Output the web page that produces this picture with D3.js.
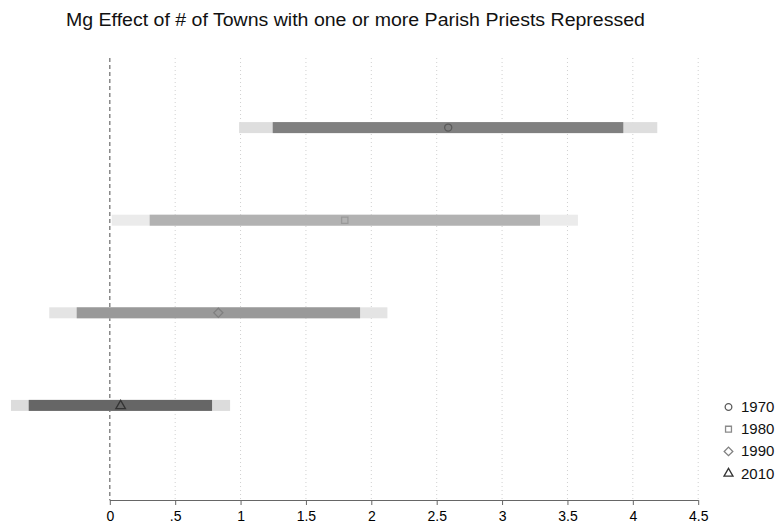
<!DOCTYPE html>
<html>
<head>
<meta charset="utf-8">
<script src="https://cdn.jsdelivr.net/npm/d3@7"></script>
<style>
  body { margin: 0; background: #fff; }
  svg { font-family: "Liberation Sans", Arial, Helvetica, sans-serif; }
</style>
</head>
<body>
<svg id="chart" width="781" height="528"></svg>
<script>
const years = ["1970", "1980", "1990", "2010"];
const pointEst = [2.588, 1.797, 0.830, 0.083];
const ci95Low = [0.989, 0.015, -0.463, -0.756];
const ci95High = [4.187, 3.580, 2.123, 0.920];
const ci90Low = [1.246, 0.305, -0.253, -0.620];
const ci90High = [3.927, 3.290, 1.914, 0.782];
const xTicks = [0, 0.5, 1, 1.5, 2, 2.5, 3, 3.5, 4, 4.5];
const darkColors = ["#808080", "#b2b2b2", "#999999", "#666666"];
const lightColors = ["#dedede", "#ebebeb", "#e4e4e4", "#dcdcdc"];
const markerColors = ["#5a5a5a", "#999999", "#808080", "#333333"];
const symbols = [d3.symbolCircle, d3.symbolSquare, d3.symbolSquare, d3.symbolTriangle];
const rotations = [0, 0, 45, 0];
const title = "Mg Effect of # of Towns with one or more Parish Priests Repressed";

const svg = d3.select("#chart");
const x = d3.scaleLinear().domain([0, 4.5]).range([109.8, 698.2]);
const y = d3.scalePoint().domain(years).range([35, 498]).padding(1);
const plotTop = 58, plotBottom = 500;

// grid
svg.append("g").selectAll("line").data(xTicks.filter(t => t !== 0)).join("line")
  .attr("x1", d => x(d)).attr("x2", d => x(d))
  .attr("y1", plotTop).attr("y2", plotBottom)
  .attr("stroke", "#d0d0d0").attr("stroke-width", 1).attr("stroke-dasharray", "1,3");

// zero line
svg.append("line")
  .attr("x1", x(0)).attr("x2", x(0)).attr("y1", plotTop).attr("y2", plotBottom)
  .attr("stroke", "#777").attr("stroke-width", 1.3).attr("stroke-dasharray", "4,3");

const data = years.map((yr, i) => ({yr, i, p: pointEst[i], l95: ci95Low[i], h95: ci95High[i], l90: ci90Low[i], h90: ci90High[i]}));
const barH = 11;

svg.append("g").selectAll("rect").data(data).join("rect")
  .attr("x", d => x(d.l95)).attr("width", d => x(d.h95) - x(d.l95))
  .attr("y", d => y(d.yr) - barH / 2).attr("height", barH)
  .attr("fill", d => lightColors[d.i]);

svg.append("g").selectAll("rect").data(data).join("rect")
  .attr("x", d => x(d.l90)).attr("width", d => x(d.h90) - x(d.l90))
  .attr("y", d => y(d.yr) - barH / 2).attr("height", barH)
  .attr("fill", d => darkColors[d.i]);

const symSizes = [40, 40, 42, 40];
svg.append("g").selectAll("path").data(data).join("path")
  .attr("transform", d => `translate(${x(d.p)},${y(d.yr) + (d.i === 3 ? 0.5 : 0)}) rotate(${rotations[d.i]})`)
  .attr("d", d => d3.symbol().type(symbols[d.i]).size(symSizes[d.i])())
  .attr("fill", "none").attr("stroke", d => markerColors[d.i]).attr("stroke-width", 1.3);

// axis
const axis = d3.axisBottom(x).tickValues(xTicks).tickSize(5).tickPadding(6)
  .tickFormat(d => d3.format("")(d).replace(/^0\./, "."));
const ag = svg.append("g").attr("transform", `translate(0,${plotBottom})`).call(axis);
ag.select(".domain").attr("stroke", "#666").attr("d", `M${x(0)},0.5H${x(4.5)}`);
ag.selectAll(".tick line").attr("stroke", "#666");
ag.selectAll(".tick text").attr("font-size", 14).attr("fill", "#000")
  .attr("font-family", "'Liberation Sans', Arial, sans-serif");

// title
svg.append("text").attr("x", 66).attr("y", 26).attr("font-size", 17.5)
  .attr("fill", "#111").attr("textLength", 579).attr("lengthAdjust", "spacingAndGlyphs")
  .text(title);

// legend
const lg = svg.append("g");
years.forEach((yr, i) => {
  const yy = 407 + i * 22.2;
  lg.append("path").attr("transform", `translate(728.5,${yy}) rotate(${rotations[i]})`)
    .attr("d", d3.symbol().type(symbols[i]).size(symSizes[i] - 5)())
    .attr("fill", "none").attr("stroke", markerColors[i] === "#999999" ? "#8a8a8a" : markerColors[i]).attr("stroke-width", 1.3);
  lg.append("text").attr("x", 741).attr("y", yy + 5).attr("font-size", 15)
    .attr("fill", "#111").text(yr);
});
</script>
</body>
</html>
